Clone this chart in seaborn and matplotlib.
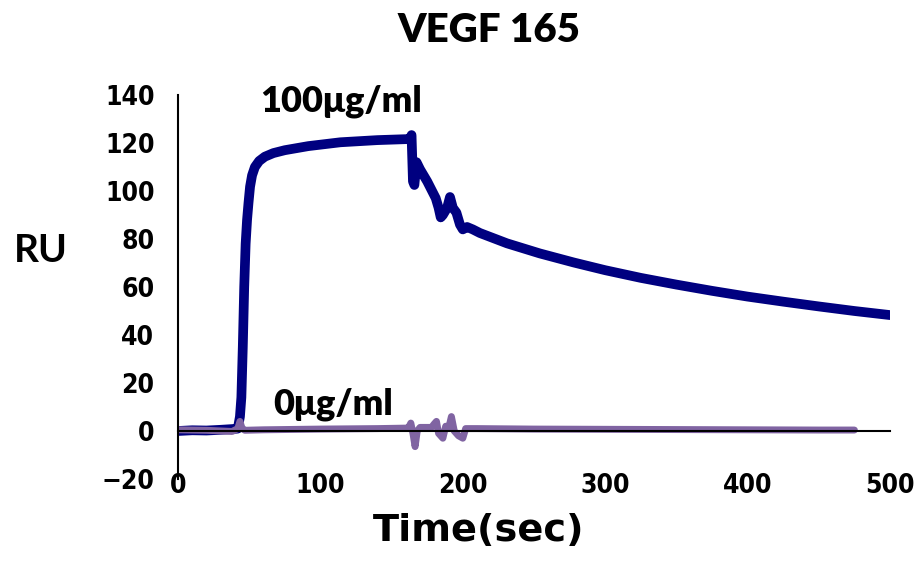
import numpy as np
import pandas as pd
import seaborn as sns
import matplotlib
matplotlib.use("Agg")
import matplotlib.pyplot as plt

# sensorgram readings (time in sec, response in RU)
t_hi = [0, 10, 20, 30, 38, 42, 43.5, 44.5, 45.5, 46.5, 47.5, 48.5, 49.5, 50.6, 52, 54, 57, 61, 67, 75,
        91.5, 114, 140, 160, 163, 164, 165, 166, 167.5, 170, 175, 181, 183, 184.5, 186, 189, 191, 193,
        195.5, 198, 200, 203, 207, 212, 231, 254, 278, 300, 325, 350, 375, 400, 425, 450, 475, 500]
ru_hi = [0, 0.3, 0.2, 0.5, 0.8, 1, 6, 14, 35, 60, 78, 88, 95, 101.8, 106.5, 110, 112.5, 114.3, 115.8, 117,
         118.7, 120.3, 121.2, 121.6, 121.6, 123.3, 104, 102.5, 112, 109, 104, 97, 93, 89, 90, 93, 97.5,
         93, 91, 86, 84, 85, 84, 82.5, 78.2, 74, 70.2, 67, 63.8, 61, 58.4, 56, 53.9, 51.9, 50, 48.3]

t_lo = [0, 20, 38, 42, 43.5, 45, 47, 60, 100, 140, 160, 162, 163.5, 165, 166.5, 168, 170, 178, 180, 181.5,
        183, 186, 188, 190, 192, 194, 197, 200, 202, 210, 250, 300, 350, 400, 450, 475]
ru_lo = [0.5, 0.3, -0.2, 1, 4, 1, 0.3, 0.5, 0.8, 1, 1.2, 1.5, 3.3, -1, -6.5, 0, 1.5, 1.5, 3, 4,
         -1, -3, 2, 1, 6, 0, -2, -3, 1, 1, 0.8, 0.7, 0.6, 0.5, 0.4, 0.4]

hi = pd.DataFrame({"Time": t_hi, "RU": ru_hi})
lo = pd.DataFrame({"Time": t_lo, "RU": ru_lo})

sns.set_style("white")
plt.rcParams["font.family"] = ["DejaVu Sans"]
plt.rcParams["text.color"] = "black"
plt.rcParams["axes.labelcolor"] = "black"
plt.rcParams["xtick.color"] = "black"
plt.rcParams["ytick.color"] = "black"

fig = plt.figure(figsize=(9.19, 5.62), dpi=100)
ax = fig.add_axes([178/919, 1-479/562, 712/919, 384/562])

sns.lineplot(data=hi, x="Time", y="RU", color="#000080", linewidth=7, ax=ax,
             solid_capstyle="round", solid_joinstyle="round")
sns.lineplot(data=lo, x="Time", y="RU", color="#8064A2", linewidth=5, ax=ax,
             solid_capstyle="round", solid_joinstyle="round")

ax.set_xlim(0, 500)
ax.set_ylim(-20, 140)
ax.set_xticks([0, 100, 200, 300, 400, 500])
ax.set_yticks(range(-20, 141, 20))
ax.set_yticklabels([f"{v}".replace("-", "\u2212") for v in range(-20, 141, 20)])

for s in ["top", "right"]:
    ax.spines[s].set_visible(False)
ax.spines["bottom"].set_position(("data", 0))
for s in ["bottom", "left"]:
    ax.spines[s].set_linewidth(1.5)
    ax.spines[s].set_color("black")

ax.tick_params(axis="y", direction="in", length=6, width=1.5, pad=17, labelsize=19)
ax.tick_params(axis="x", direction="out", length=6, width=1.5, pad=24, labelsize=19)
for lab in ax.get_xticklabels() + ax.get_yticklabels():
    lab.set_family(["Liberation Sans Narrow", "DejaVu Sans"])
    lab.set_fontweight("bold")
    lab.set_fontstretch("condensed")

ax.set_xlabel("Time(sec)", fontsize=27.5, fontweight="bold", family="DejaVu Sans")
ax.xaxis.label.set_va("center")
ax.xaxis.set_label_coords(0.4228, -0.135)
ax.set_ylabel("RU", fontsize=28, fontweight="bold", family="Lato", rotation=0)
ax.yaxis.label.set_va("center")
ax.yaxis.label.set_ha("center")
ax.yaxis.set_label_coords(-0.1924, 0.594)

fig.suptitle("VEGF 165", x=489/919, y=1-30/562, va="center", fontsize=29,
             fontweight="heavy", family="Lato")

ax.text(57.6, 133, "100\u03bcg/ml", fontsize=26, fontweight="heavy", family="Lato",
        va="baseline", ha="left")
ax.text(66.7, 6.7, "0\u03bcg/ml", fontsize=26, fontweight="heavy", family="Lato",
        va="baseline", ha="left")

fig.savefig("out.png", dpi=100)
